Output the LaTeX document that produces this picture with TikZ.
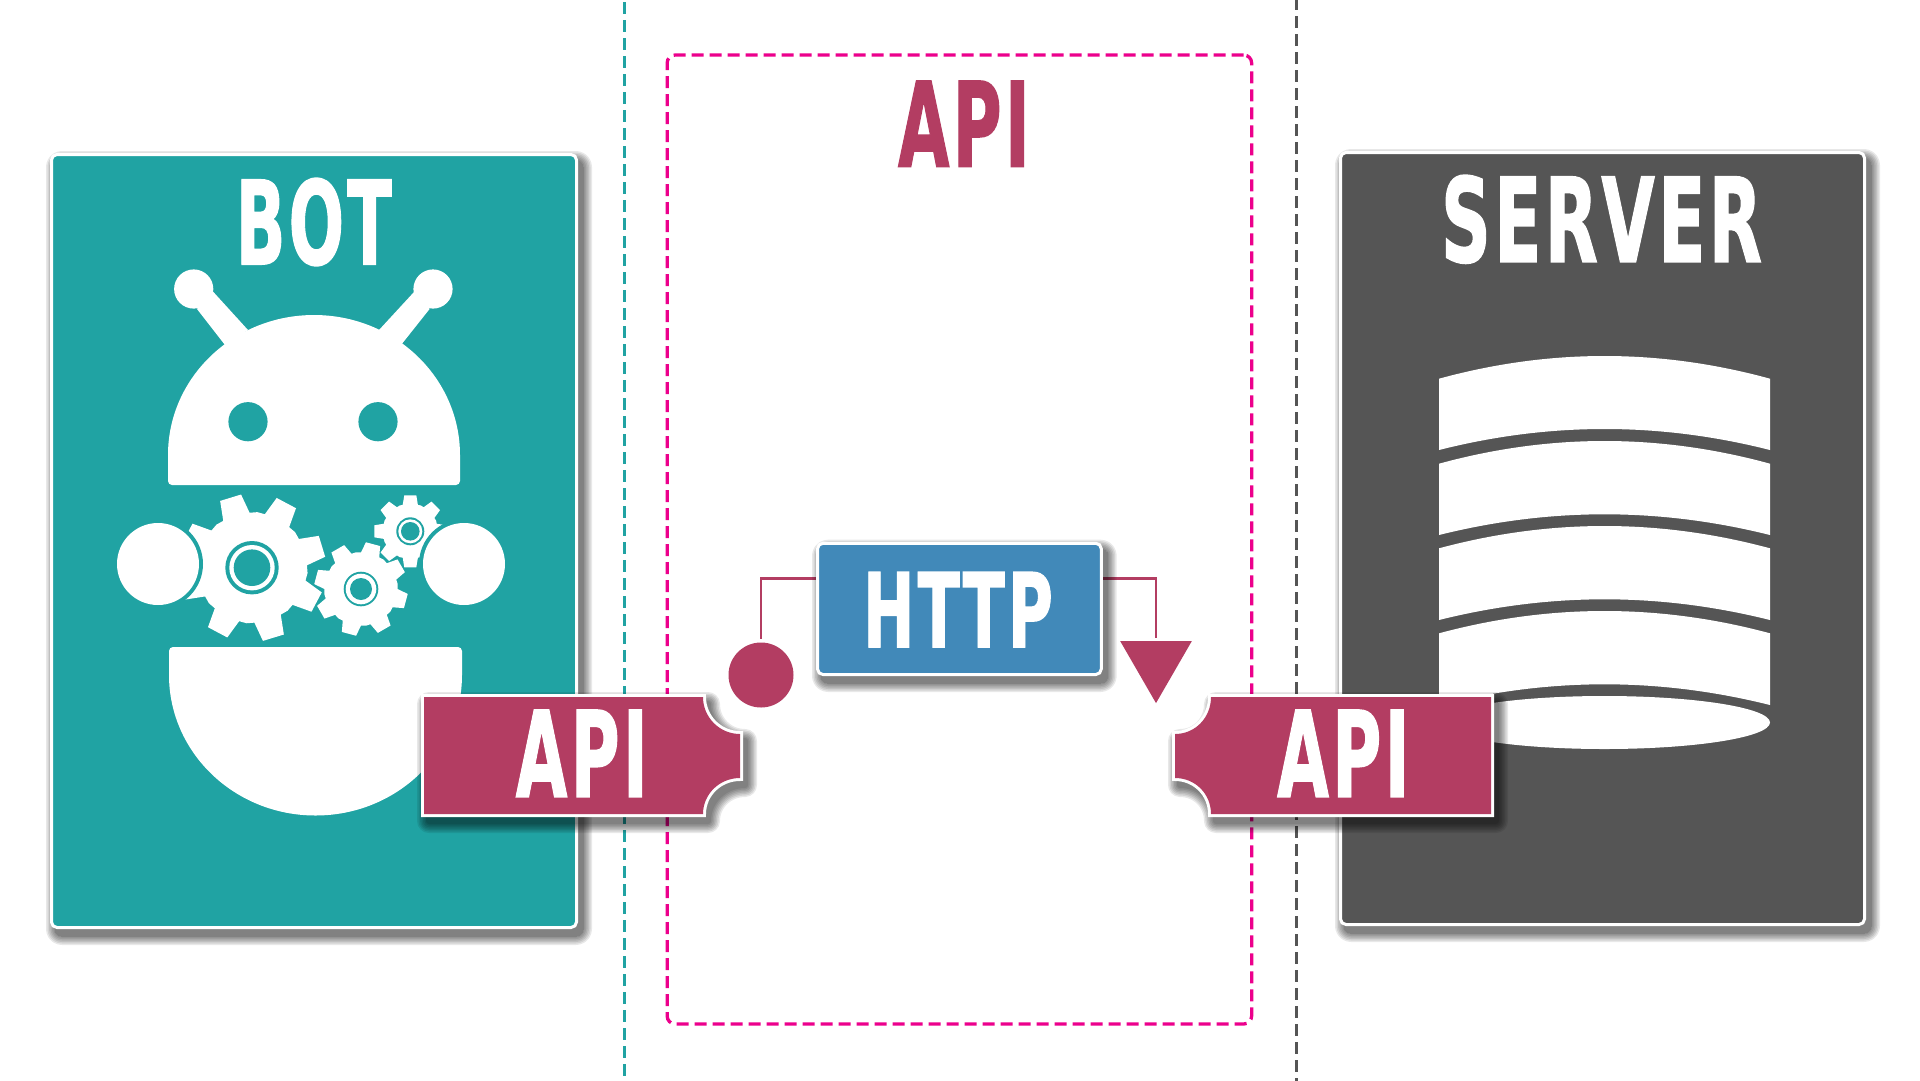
\documentclass[tikz,border=0pt]{standalone}
\usepackage{fontspec}
\newfontfamily\heavy[FakeBold=1.4,LetterSpace=5,Kerning=Off]{DejaVu Sans Bold}
\usetikzlibrary{shapes.geometric,calc}
\definecolor{teal1}{HTML}{20A3A3}
\definecolor{grey1}{HTML}{555555}
\definecolor{maroon1}{HTML}{B33D62}
\definecolor{pink1}{HTML}{EC008C}
\definecolor{blue1}{HTML}{4189B9}
\pgfdeclarelayer{conn}
\pgfsetlayers{conn,main}
\newcommand\fittext[5]{\resizebox{#1pt}{#2pt}{\heavy\kern-#4em #3\kern-#5em}}
\newcommand\softshadow[3]{%
  \begin{scope}[shift={(5,7)}]
    \foreach \w in {18,15,12,9,6,3,0}{
      \pgfmathsetmacro\lw{\w+#3}
      \begin{scope}[transparency group,opacity=.09]
      \filldraw[black,line width=\lw pt,line join=round,#1] #2;
      \end{scope}
    }
  \end{scope}}
\newcommand\mygear[7]{%
  \begin{scope}[shift={(#1,#2)}]
    \fill[white] (#5-#7:#4)
      \foreach \k in {0,...,7}{
        -- ({#5+45*\k-#7}:#4) -- ({#5+45*\k-#6}:#3) -- ({#5+45*\k+#6}:#3)
        -- ({#5+45*\k+#7}:#4) -- ({#5+45*\k+22.5}:#4*1.015)
      } -- cycle;
  \end{scope}}
\newcommand\gearhub[5]{%
  \fill[teal1] (#1,#2) circle[radius=#3];
  \fill[white] (#1,#2) circle[radius=#4];
  \fill[teal1] (#1,#2) circle[radius=#5];}
\newcommand\dbseg[4]{%
  \fill[white] (1439,#1) .. controls (1549.5,{#2-(#1-#2)/3}) and (1659.5,{#2-(#1-#2)/3}) .. (1770,#1)
    -- (1770,#3) .. controls (1659.5,{#4-(#3-#4)/3}) and (1549.5,{#4-(#3-#4)/3}) .. (1439,#3) -- cycle;}
\def\tagL{(424,697) -- (703,697) .. controls (703,717.4) and (719.6,734) .. (740,734) -- (740,778) .. controls (719.6,778) and (703,794) .. (703,814) -- (424,814) -- cycle}
\def\tagR{(1491,697) -- (1211,697) .. controls (1211,717.4) and (1195.4,734) .. (1175,734) -- (1175,778) .. controls (1195.4,778) and (1211,794) .. (1211,814) -- (1491,814) -- cycle}
\tikzset{
  card/.style={rectangle,draw=white,line width=3pt,rounded corners=5.5pt,inner sep=0pt,outer sep=0pt},
  label/.style={inner sep=0pt,outer sep=0pt,text=white},
  dashline/.style={line width=2.8pt,dash pattern=on 12pt off 6pt},
  wire/.style={draw=maroon1,line width=2.8pt},
}
\begin{document}
\begin{tikzpicture}[x=1pt,y=-1pt]
\useasboundingbox (0,0) rectangle (1920,1080);
\begin{pgfonlayer}{conn}
\fill[white] (0,0) rectangle (1920,1080);
\end{pgfonlayer}

% guides
\coordinate (t1) at (624.3,-16);
\coordinate (t2) at (624.3,1085);
\coordinate (g1) at (1296.6,-2);
\coordinate (g2) at (1296.6,1085);
\draw[dashline,teal1] (t1) -- (t2);
\draw[dashline,grey1] (g1) -- (g2);
\node[rectangle,draw=pink1,line width=3.3pt,dash pattern=on 12pt off 6pt,rounded corners=8pt,inner sep=0pt,outer sep=0pt,
      minimum width=584.5pt,minimum height=969pt] (frame) at (959.4,539.5) {};
\node[label,text=maroon1] (apititle) at (960.5,123.8) {\fittext{125}{85.7}{API}{0}{.10}};

% bot card
\softshadow{rounded corners=7pt}{(50,153) rectangle (578,929)}{0}
\node[card,fill=teal1,minimum width=525pt,minimum height=773pt] (botcard) at (314,541) {};
\node[label] (bottitle) at (314.5,222) {\fittext{151}{86}{BOT}{.05}{.03}};
% antennae + head
\fill[white] (213.4,292) -- (248,330) -- (225,345) -- (197,309) -- cycle;
\fill[white] (414,292) -- (379,330) -- (401,345) -- (429.6,309) -- cycle;
\fill[white] (193.7,289) circle[radius=19.6];
\fill[white] (433,289) circle[radius=19.6];
\fill[white] (168,470) -- (168,455) .. controls (168,377.7) and (233.4,315) .. (314,315)
  .. controls (394.6,315) and (460,377.7) .. (460,455) -- (460,470)
  {[rounded corners=4pt] -- (460,485) -- (168,485) -- (168,470)} -- cycle;
\fill[teal1] (248,421.7) circle[radius=19.6];
\fill[teal1] (378,421.7) circle[radius=19.6];
% gears
\mygear{252}{567.7}{74}{55}{-107}{8.5}{14.5}
\mygear{361}{589}{47}{36.5}{-120}{9}{15}
\mygear{410.3}{531.3}{36.5}{27.5}{-90}{9.5}{16}
\gearhub{252}{567.7}{26.7}{22.7}{18.3}
\gearhub{361}{589}{17.3}{15.3}{11}
\gearhub{410.3}{531.3}{14}{12}{9.3}
% hands
\fill[teal1] (158,564) circle[radius=45];
\fill[teal1] (464,564) circle[radius=45];
\fill[white] (158,564) circle[radius=41];
\fill[white] (464,564) circle[radius=41];
% lower body
\fill[white] (169,660) {[rounded corners=4pt] -- (169,647) -- (462,647) -- (462,660)} -- (462,675)
  .. controls (462,752.6) and (396.4,815.5) .. (315.5,815.5)
  .. controls (234.6,815.5) and (169,752.6) .. (169,675) -- cycle;

% server card
\softshadow{rounded corners=7pt}{(1339,151) rectangle (1866,926)}{0}
\node[card,fill=grey1,minimum width=524pt,minimum height=772pt] (srvcard) at (1602.5,538.5) {};
\node[label] (srvtitle) at (1602.6,219.3) {\fittext{316}{86.7}{SERVER}{.05}{.02}};
\dbseg{378.7}{356}{450}{429}
\dbseg{463.7}{441}{535}{514.3}
\dbseg{548.3}{526}{620}{599.3}
\dbseg{633.3}{611}{705}{684.3}
\fill[white] (1604.5,722.5) ellipse[x radius=165.5,y radius=26.5];

% http
\softshadow{rounded corners=7pt}{(816,541.7) rectangle (1102.7,676)}{0}
\node[card,fill=blue1,minimum width=283.7pt,minimum height=131.3pt] (http) at (959.4,608.9) {};
\node[label] (httptext) at (958.3,609.7) {\fittext{183}{75}{HTTP}{.06}{.05}};
\node[circle,fill=maroon1,inner sep=0pt,outer sep=0pt,minimum size=65pt] (dot) at (761,675) {};
\node[regular polygon,regular polygon sides=3,shape border rotate=180,fill=maroon1,inner sep=0pt,outer sep=0pt,minimum size=82.8pt] (tri) at (1156,661.7) {};
\coordinate (wl) at (761,578.7);
\coordinate (wr) at (1156.3,578.7);
\begin{pgfonlayer}{conn}
\draw[wire,shorten >=4pt] (http.west |- wl) -| (dot.north);
\draw[wire,shorten >=3.5pt] (http.east |- wr) -| (tri.north);
\end{pgfonlayer}

% api tags
\softshadow{}{\tagL}{6}
\draw[white,line width=6pt,line join=miter] \tagL;
\fill[maroon1] \tagL;
\node[label] (apil) at (578.4,753.4) {\fittext{125.3}{86.7}{API}{0}{.10}};
\softshadow{}{\tagR}{6}
\draw[white,line width=6pt,line join=miter] \tagR;
\fill[maroon1] \tagR;
\node[label] (apir) at (1340,753.4) {\fittext{125.7}{86.7}{API}{0}{.10}};
\end{tikzpicture}
\end{document}
